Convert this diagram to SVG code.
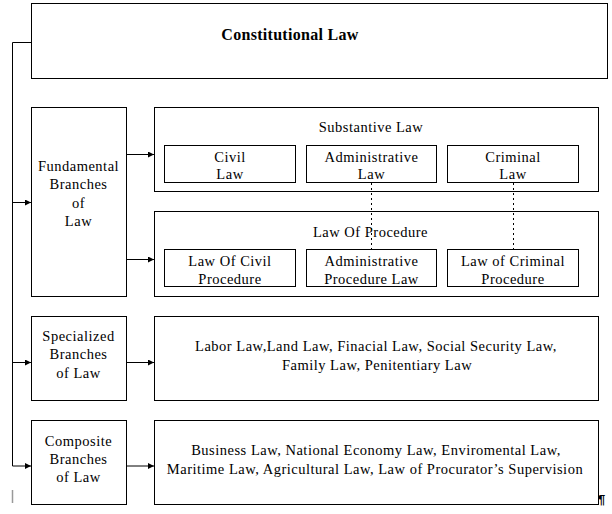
<svg xmlns="http://www.w3.org/2000/svg" width="612" height="514" viewBox="0 0 612 514">
<style>
.box{fill:#fff;stroke:#000;stroke-width:1}
.t{font-family:"Liberation Serif","Times New Roman",serif;font-size:14.5px;letter-spacing:0.5px;fill:#000;text-anchor:middle}
.h{font-family:"Liberation Serif","Times New Roman",serif;font-size:16px;font-weight:bold;letter-spacing:0.3px;fill:#000;text-anchor:middle}
.c{fill:none;stroke:#000;stroke-width:1}
.d{fill:none;stroke:#000;stroke-width:1;stroke-dasharray:2 3}
</style>
<defs>
<marker id="ah" markerWidth="6" markerHeight="6" refX="6" refY="3" orient="auto" markerUnits="userSpaceOnUse">
<path d="M0,0 L6,3 L0,6 Z" fill="#000"/>
</marker>
</defs>
<rect width="612" height="514" fill="#fff"/>

<g id="constitutional">
<rect class="box" x="31.5" y="3.5" width="576" height="75"/>
<text class="h" x="290" y="40">Constitutional Law</text>
</g>

<g id="fundamental">
<rect class="box" x="31.5" y="107.5" width="95" height="189"/>
<text class="t" x="78.5" y="170.5">Fundamental</text>
<text class="t" x="78.5" y="189">Branches</text>
<text class="t" x="78.5" y="207.5">of</text>
<text class="t" x="78.5" y="226">Law</text>
</g>

<g id="substantive">
<rect class="box" x="154.5" y="107.5" width="444" height="84"/>
<text class="t" x="371" y="131.5">Substantive Law</text>
</g>
<g id="civil">
<rect class="box" x="164.5" y="145.5" width="131" height="37"/>
<text class="t" x="230" y="161.5">Civil</text>
<text class="t" x="230" y="179">Law</text>
</g>
<g id="administrative">
<rect class="box" x="306.5" y="145.5" width="130" height="37"/>
<text class="t" x="371.5" y="161.5">Administrative</text>
<text class="t" x="371.5" y="179">Law</text>
</g>
<g id="criminal">
<rect class="box" x="447.5" y="145.5" width="131" height="37"/>
<text class="t" x="513" y="161.5">Criminal</text>
<text class="t" x="513" y="179">Law</text>
</g>

<g id="procedure">
<rect class="box" x="154.5" y="211.5" width="444" height="85"/>
<text class="t" x="370.5" y="237">Law Of Procedure</text>
</g>
<g id="civil-procedure">
<rect class="box" x="164.5" y="249.5" width="131" height="37"/>
<text class="t" x="230" y="265.5">Law Of Civil</text>
<text class="t" x="230" y="284">Procedure</text>
</g>
<g id="administrative-procedure">
<rect class="box" x="306.5" y="249.5" width="130" height="37"/>
<text class="t" x="371.5" y="265.5">Administrative</text>
<text class="t" x="371.5" y="284">Procedure Law</text>
</g>
<g id="criminal-procedure">
<rect class="box" x="447.5" y="249.5" width="131" height="37"/>
<text class="t" x="513" y="265.5">Law of Criminal</text>
<text class="t" x="513" y="284">Procedure</text>
</g>

<g id="specialized">
<rect class="box" x="31.5" y="316.5" width="95" height="84"/>
<text class="t" x="78.5" y="340.5">Specialized</text>
<text class="t" x="78.5" y="359">Branches</text>
<text class="t" x="78.5" y="377.5">of Law</text>
</g>
<g id="specialized-list">
<rect class="box" x="154.5" y="316.5" width="444" height="84"/>
<text class="t" x="376" y="351">Labor Law,Land Law, Finacial Law, Social Security Law,</text>
<text class="t" x="377" y="369.5">Family Law, Penitentiary Law</text>
</g>

<g id="composite">
<rect class="box" x="31.5" y="420.5" width="95" height="84"/>
<text class="t" x="78.5" y="445.5">Composite</text>
<text class="t" x="78.5" y="463.5">Branches</text>
<text class="t" x="78.5" y="482">of Law</text>
</g>
<g id="composite-list">
<rect class="box" x="154.5" y="420.5" width="444" height="84"/>
<text class="t" x="376" y="455">Business Law, National Economy Law, Enviromental Law,</text>
<text class="t" x="375" y="473.5">Maritime Law, Agricultural Law, Law of Procurator’s Supervision</text>
</g>

<g id="connectors">
<path class="c" d="M31,42.5 H12.5 V466"/>
<path class="c" d="M12.5,202.5 H31" marker-end="url(#ah)"/>
<path class="c" d="M12.5,362.5 H31" marker-end="url(#ah)"/>
<path class="c" d="M12.5,466 H31" marker-end="url(#ah)"/>
<path class="c" d="M126.5,154.5 H154" marker-end="url(#ah)"/>
<path class="c" d="M126.5,259.5 H154" marker-end="url(#ah)"/>
<path class="c" d="M126.5,362.5 H154" marker-end="url(#ah)"/>
<path class="c" d="M126.5,466 H154" marker-end="url(#ah)"/>
<path class="d" d="M371.5,183 V249"/>
<path class="d" d="M513.5,183 V249"/>
</g>

<line x1="12.5" y1="490" x2="12.5" y2="503" stroke="#999" stroke-width="1.5"/>
<text x="598" y="504" font-family="Liberation Sans, Arial, sans-serif" font-size="13" font-weight="bold" fill="#000">¶</text>
</svg>
